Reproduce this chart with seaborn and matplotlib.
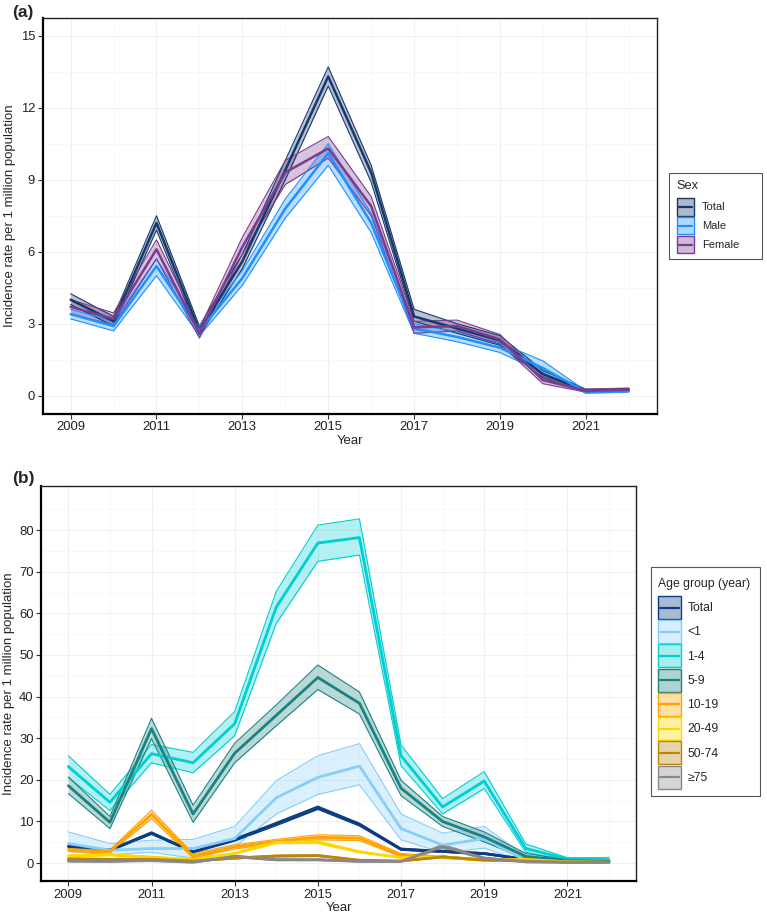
import numpy as np
import pandas as pd
import seaborn as sns
import matplotlib.pyplot as plt
from matplotlib.patches import Patch, Rectangle
from matplotlib.lines import Line2D
from matplotlib.colors import to_rgba
from matplotlib.legend_handler import HandlerBase

# Data
years = list(range(2009, 2023))

# Panel (a): by sex
total = [4.0, 3.1, 7.2, 2.7, 5.6, 9.4, 13.3, 9.3, 3.3, 2.8, 2.3, 0.9, 0.2, 0.25]
total_lo = [3.8, 2.9, 6.9, 2.5, 5.3, 9.0, 12.9, 8.9, 3.1, 2.6, 2.1, 0.75, 0.15, 0.2]
total_hi = [4.25, 3.3, 7.5, 2.9, 5.9, 9.8, 13.7, 9.6, 3.6, 3.0, 2.5, 1.05, 0.27, 0.3]

male = [3.4, 2.9, 5.4, 2.7, 4.9, 7.8, 10.1, 7.2, 2.8, 2.45, 2.0, 1.15, 0.15, 0.2]
male_lo = [3.2, 2.7, 5.0, 2.5, 4.6, 7.4, 9.6, 6.8, 2.6, 2.25, 1.8, 0.95, 0.1, 0.15]
male_hi = [3.6, 3.1, 5.7, 2.9, 5.2, 8.2, 10.5, 7.6, 3.0, 2.65, 2.2, 1.45, 0.2, 0.25]

female = [3.7, 3.2, 6.1, 2.6, 6.2, 9.3, 10.3, 7.9, 2.85, 2.9, 2.35, 0.65, 0.2, 0.25]
female_lo = [3.4, 2.95, 5.7, 2.4, 5.9, 8.8, 9.9, 7.5, 2.6, 2.7, 2.15, 0.5, 0.15, 0.2]
female_hi = [4.0, 3.45, 6.5, 2.8, 6.6, 9.8, 10.8, 8.3, 3.1, 3.15, 2.55, 0.8, 0.27, 0.32]

# Panel (b): by age group
lt1 = [4.7, 3.1, 3.5, 3.5, 5.9, 15.7, 20.6, 23.3, 8.3, 4.3, 5.9, 0.6, 0.3, 0.6]
lt1_lo = [2.8, 2.0, 2.6, 1.2, 3.9, 11.8, 16.5, 18.8, 5.6, 2.5, 3.6, 0.1, 0.0, 0.0]
lt1_hi = [7.5, 4.7, 5.5, 5.7, 8.8, 19.8, 25.8, 28.7, 11.8, 7.2, 8.8, 1.6, 1.0, 1.4]

a14 = [23.2, 14.6, 26.3, 24.1, 33.5, 61.5, 76.9, 78.2, 25.8, 13.5, 19.7, 3.5, 1.0, 0.8]
a14_lo = [20.6, 12.6, 24.1, 21.7, 30.6, 57.6, 72.5, 74.0, 23.4, 11.8, 17.9, 2.6, 0.7, 0.4]
a14_hi = [25.8, 16.5, 28.5, 26.6, 36.4, 65.3, 81.2, 82.7, 28.4, 15.5, 22.0, 4.6, 1.3, 1.3]

a59 = [18.6, 9.8, 32.3, 11.8, 26.4, 35.5, 44.6, 38.4, 18.0, 10.0, 6.3, 1.6, 0.6, 0.4]
a59_lo = [16.7, 8.3, 29.9, 9.8, 24.1, 33.0, 41.7, 35.8, 16.2, 8.8, 5.1, 1.0, 0.4, 0.2]
a59_hi = [20.7, 11.2, 34.8, 13.9, 28.8, 38.0, 47.6, 41.1, 19.9, 11.2, 7.5, 2.3, 0.8, 0.6]

a1019 = [3.3, 2.8, 11.7, 1.7, 3.9, 5.2, 6.2, 6.0, 1.9, 1.4, 0.8, 0.8, 0.3, 0.2]
a1019_lo = [2.8, 2.4, 10.7, 1.2, 3.4, 4.7, 5.6, 5.4, 1.5, 1.1, 0.6, 0.6, 0.2, 0.1]
a1019_hi = [3.8, 3.2, 12.7, 2.3, 4.4, 5.7, 6.8, 6.6, 2.3, 1.7, 1.0, 1.0, 0.4, 0.3]

a2049 = [1.7, 2.0, 1.4, 0.9, 2.3, 5.0, 5.0, 2.7, 1.3, 1.5, 0.6, 0.9, 0.3, 0.2]
a2049_lo = [1.5, 1.8, 1.2, 0.8, 2.1, 4.7, 4.7, 2.5, 1.2, 1.3, 0.5, 0.8, 0.2, 0.15]
a2049_hi = [1.9, 2.2, 1.6, 1.0, 2.5, 5.3, 5.3, 2.9, 1.4, 1.7, 0.7, 1.0, 0.35, 0.25]

a5074 = [1.0, 0.9, 0.9, 0.5, 1.2, 1.7, 1.8, 0.7, 0.5, 1.5, 0.7, 0.5, 0.2, 0.2]
a5074_lo = [0.8, 0.7, 0.7, 0.4, 1.0, 1.5, 1.6, 0.6, 0.4, 1.3, 0.6, 0.4, 0.15, 0.15]
a5074_hi = [1.2, 1.1, 1.1, 0.6, 1.4, 1.9, 2.0, 0.8, 0.6, 1.7, 0.8, 0.6, 0.25, 0.25]

a75 = [0.5, 0.4, 0.6, 0.2, 1.6, 0.8, 0.8, 0.4, 0.4, 4.0, 1.2, 0.3, 0.2, 0.2]
a75_lo = [0.3, 0.3, 0.5, 0.1, 1.3, 0.6, 0.6, 0.3, 0.3, 3.5, 1.0, 0.2, 0.1, 0.1]
a75_hi = [0.7, 0.5, 0.7, 0.3, 1.9, 1.0, 1.0, 0.5, 0.5, 4.5, 1.4, 0.4, 0.3, 0.3]

sex_groups = ["Total", "Male", "Female"]
sex_colors = {"Total": "#17386B", "Male": "#1E90FF", "Female": "#7B3B8E"}
sex_series = {"Total": (total, total_lo, total_hi),
              "Male": (male, male_lo, male_hi),
              "Female": (female, female_lo, female_hi)}

age_groups = ["Total", "<1", "1-4", "5-9", "10-19", "20-49", "50-74", "\u226575"]
age_colors = {"Total": "#0B3C84", "<1": "#87CEFA", "1-4": "#00CED1", "5-9": "#1A8380",
              "10-19": "#FFA200", "20-49": "#FFD700", "50-74": "#B8860B", "\u226575": "#888888"}
age_series = {"Total": (total, total_lo, total_hi),
              "<1": (lt1, lt1_lo, lt1_hi),
              "1-4": (a14, a14_lo, a14_hi),
              "5-9": (a59, a59_lo, a59_hi),
              "10-19": (a1019, a1019_lo, a1019_hi),
              "20-49": (a2049, a2049_lo, a2049_hi),
              "50-74": (a5074, a5074_lo, a5074_hi),
              "\u226575": (a75, a75_lo, a75_hi)}

W, H = 767, 916


def to_long(series, order):
    rows = []
    for g in order:
        c, lo, hi = series[g]
        for y, v, l, h in zip(years, c, lo, hi):
            rows.append({"Year": y, "Rate": v, "Lower": l, "Upper": h, "Group": g})
    return pd.DataFrame(rows)


class BandHandler(HandlerBase):
    # filled key with its edge and a centre line, like a ribbon + line legend
    def create_artists(self, legend, orig_handle, xdescent, ydescent, width, height, fontsize, trans):
        c = orig_handle.get_edgecolor()
        rect = Rectangle((-xdescent, -ydescent), width, height, facecolor=orig_handle.get_facecolor(),
                         edgecolor=c, lw=1.0, transform=trans)
        yc = -ydescent + height / 2
        ln = Line2D([-xdescent + 1.5, -xdescent + width - 1.5], [yc, yc], color=c, lw=1.6, transform=trans)
        return [rect, ln]


sns.set_style("white")
plt.rcParams['font.family'] = ['Liberation Sans', 'DejaVu Sans']

fig = plt.figure(figsize=(W / 100, H / 100), dpi=100)
ax_a = fig.add_axes([42.7 / W, 1 - 413.7 / H, 614 / W, 396 / H])
ax_b = fig.add_axes([41.3 / W, 1 - 881 / H, 594.7 / W, 395 / H])


def draw_panel(ax, df, order, colors, lw_line, lw_edge, alpha):
    for g in order:
        d = df[df["Group"] == g]
        ax.fill_between(d["Year"], d["Lower"], d["Upper"], color=colors[g], alpha=alpha, lw=0)
        ax.plot(d["Year"], d["Lower"], color=colors[g], lw=lw_edge)
        ax.plot(d["Year"], d["Upper"], color=colors[g], lw=lw_edge)
    sns.lineplot(data=df, x="Year", y="Rate", hue="Group", hue_order=order,
                 palette=colors, linewidth=lw_line, legend=False, ax=ax, estimator=None)


def style_axes(ax, ylim, yticks, yminor):
    ax.set_xlim(2008.35, 2022.65)
    ax.set_ylim(*ylim)
    ax.set_xticks(range(2009, 2023, 2))
    ax.set_xticks(range(2010, 2023, 2), minor=True)
    ax.set_yticks(yticks)
    ax.set_yticks(yminor, minor=True)
    ax.grid(True, which="major", color="#F0F0F0", lw=0.8)
    ax.grid(True, which="minor", color="#F6F6F6", lw=0.5)
    ax.set_axisbelow(True)
    ax.tick_params(axis="both", which="major", direction="out", length=3.5, width=0.8,
                   color="#333333", labelsize=9.4, labelcolor="#222222", pad=2,
                   bottom=True, left=True)
    ax.tick_params(which="minor", length=0)
    for side in ["left", "bottom"]:
        ax.spines[side].set_linewidth(1.6)
        ax.spines[side].set_color("black")
    for side in ["top", "right"]:
        ax.spines[side].set_linewidth(1.0)
        ax.spines[side].set_color("#222222")
    ax.set_xlabel("Year", fontsize=9.5, labelpad=1)
    ax.set_ylabel("Incidence rate per 1 million population", fontsize=9.5, labelpad=3)


def make_legend(ax, order, colors, title, box, left, title_y, top, fs, tfs, hl, hh, ls, tp, alpha):
    handles = [Patch(facecolor=to_rgba(colors[g], alpha), edgecolor=colors[g]) for g in order]
    leg = ax.legend(handles, order, loc="upper left",
                    bbox_to_anchor=(left / W, 1 - top / H), bbox_transform=fig.transFigure,
                    fontsize=fs, frameon=False, handler_map={Patch: BandHandler()},
                    handlelength=hl, handleheight=hh, labelspacing=ls,
                    handletextpad=tp, borderpad=0, borderaxespad=0)
    fig.text(left / W, 1 - title_y / H, title, fontsize=tfs, va="center", ha="left")
    x0, y0, x1, y1 = box
    fig.add_artist(Rectangle((x0 / W, 1 - y1 / H), (x1 - x0) / W, (y1 - y0) / H,
                             transform=fig.transFigure, fill=False,
                             edgecolor="#555555", lw=0.8))
    return leg


df_a = to_long(sex_series, sex_groups)
draw_panel(ax_a, df_a, sex_groups, sex_colors, 1.8, 0.8, 0.3)
style_axes(ax_a, (-0.75, 15.75), range(0, 16, 3), np.arange(1.5, 15, 3))
make_legend(ax_a, sex_groups, sex_colors, "Sex", (669, 172.7, 762, 259),
            676.7, 186, 198, 8.0, 9.2, 1.55, 2.05, 0.13, 0.7, 0.35)

df_b = to_long(age_series, age_groups)
draw_panel(ax_b, df_b, age_groups, age_colors, 2.0, 0.8, 0.3)
style_axes(ax_b, (-4.3, 90.6), range(0, 81, 10), range(5, 90, 10))
make_legend(ax_b, age_groups, age_colors, "Age group (year)", (651, 567, 760, 796),
            657.7, 584, 596, 8.8, 8.8, 1.89, 2.52, 0.1, 0.55, 0.35)

fig.text(12 / W, 1 - 12 / H, "(a)", fontsize=12.5, fontweight="bold", va="center", ha="left")
fig.text(12 / W, 1 - 478 / H, "(b)", fontsize=12.5, fontweight="bold", va="center", ha="left")

fig.savefig("out.png", dpi=100)
